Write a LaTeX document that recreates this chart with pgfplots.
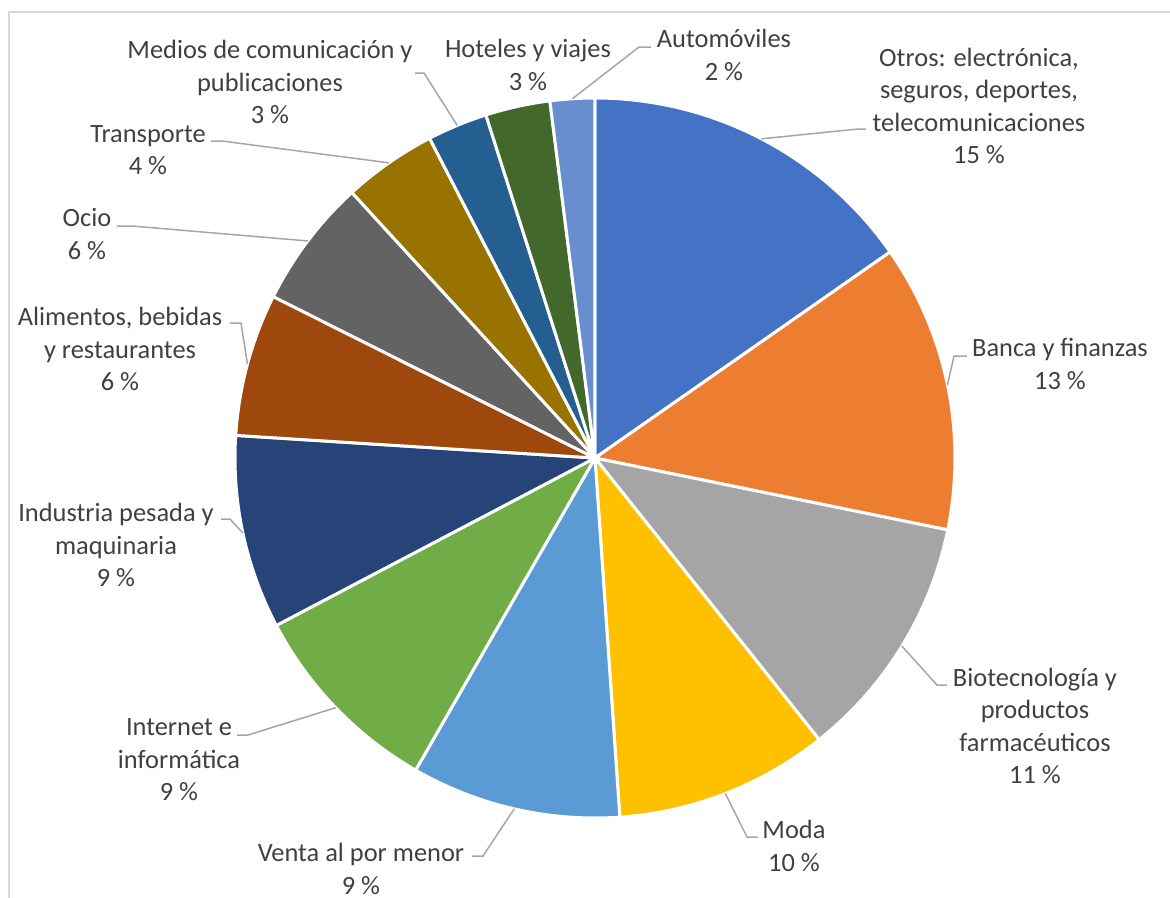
\documentclass[border=0pt]{standalone}
\usepackage{pgfplots}
\pgfplotsset{compat=1.18}
\usepackage{pgfplotstable}
\usepackage{fontspec}
\setmainfont{Carlito}

% Office palette, clockwise from 12 o'clock
\definecolor{c0}{HTML}{4472C4}
\definecolor{c1}{HTML}{ED7D31}
\definecolor{c2}{HTML}{A5A5A5}
\definecolor{c3}{HTML}{FFC000}
\definecolor{c4}{HTML}{5B9BD5}
\definecolor{c5}{HTML}{70AD47}
\definecolor{c6}{HTML}{264478}
\definecolor{c7}{HTML}{9E480E}
\definecolor{c8}{HTML}{636363}
\definecolor{c9}{HTML}{997300}
\definecolor{c10}{HTML}{255E91}
\definecolor{c11}{HTML}{43682B}
\definecolor{c12}{HTML}{698ED0}
\definecolor{txt}{HTML}{404040}
\definecolor{lead}{HTML}{A6A6A6}
\definecolor{frame}{HTML}{D9D9D9}

% share of each sector, in %
\pgfplotstableread{
pct
15.3
12.9
11.1
9.6
9.4
9.0
8.7
6.4
5.8
4.2
2.7
2.9
2.0
}\shares

\begin{document}
\begin{tikzpicture}
\begin{axis}[
    x=0.5bp, y=0.5bp,
    xmin=0, xmax=1170, ymin=0, ymax=898,
    y dir=reverse,
    hide axis,
    clip=false,
]
\draw[frame, line width=1bp] (axis cs:9,900) -- (axis cs:9,12) -- (axis cs:1172,12);

\def\start{90}
\pgfplotsforeachungrouped \i in {0,...,12}{
    \pgfplotstablegetelem{\i}{pct}\of\shares
    \pgfmathsetmacro{\stop}{\start-3.6*\pgfplotsretval}
    \pgfmathsetmacro{\mid}{(\start+\stop)/2}
    \edef\temp{%
        \noexpand\fill[c\i, draw=white, line width=1.5bp, line join=round]
            (axis cs:595,458) -- (axis cs:{595+360*cos(\start)},{458-360*sin(\start)})
            arc[start angle=\start, end angle=\stop, radius=180bp] -- cycle;
        \noexpand\coordinate (m\i) at (axis cs:{595+360*cos(\mid)},{458-360*sin(\mid)});
    }
    \temp
    \let\start\stop
}

% leader lines
\begin{scope}[lead, line width=0.75bp]
\draw (m0) -- (axis cs:858,129) -- (axis cs:866,129);
\draw (m1) -- (axis cs:954,356) -- (axis cs:967,356);
\draw (m2) -- (axis cs:937,685) -- (axis cs:947,685);
\draw (m3) -- (axis cs:747,837) -- (axis cs:758,837);
\draw (m4) -- (axis cs:483,856) -- (axis cs:472,856);
\draw (m5) -- (axis cs:248,735) -- (axis cs:237,735);
\draw (m6) -- (axis cs:230,519) -- (axis cs:221,519);
\draw (m7) -- (axis cs:241,323) -- (axis cs:230,323);
\draw (m8) -- (axis cs:132,226) -- (axis cs:117,226);
\draw (m9) -- (axis cs:222,141) -- (axis cs:211,141);
\draw (m10) -- (axis cs:424,73) -- (axis cs:415,73);
\draw (m12) -- (axis cs:639,47) -- (axis cs:651,47);
\end{scope}

% data labels
\begin{scope}[every node/.style={align=center, text=txt, inner sep=0pt,
        font=\fontsize{13.2bp}{16.25bp}\selectfont}]
\node at (axis cs:979,106) {Otros: electrónica,\\seguros, deportes,\\telecomunicaciones\\15 \%};
\node at (axis cs:1060,364) {Banca y finanzas\\13 \%};
\node at (axis cs:1035,726) {Biotecnología y\\productos\\farmacéuticos\\11 \%};
\node at (axis cs:794,846) {Moda\\10 \%};
\node at (axis cs:361,869) {Venta al por menor\\9 \%};
\node at (axis cs:179,760) {Internet e\\informática\\9 \%};
\node at (axis cs:116,545) {Industria pesada y\\maquinaria\\9 \%};
\node at (axis cs:120,349) {Alimentos, bebidas\\y restaurantes\\6 \%};
\node at (axis cs:87,234) {Ocio\\6 \%};
\node at (axis cs:148,150) {Transporte\\4 \%};
\node at (axis cs:270,82) {Medios de comunicación y\\publicaciones\\3 \%};
\node at (axis cs:528,65) {Hoteles y viajes\\3 \%};
\node at (axis cs:724,55) {Automóviles\\2 \%};
\end{scope}
\end{axis}
\pgfresetboundingbox
\useasboundingbox (0,0) rectangle (585bp,449bp);
\end{tikzpicture}
\end{document}
